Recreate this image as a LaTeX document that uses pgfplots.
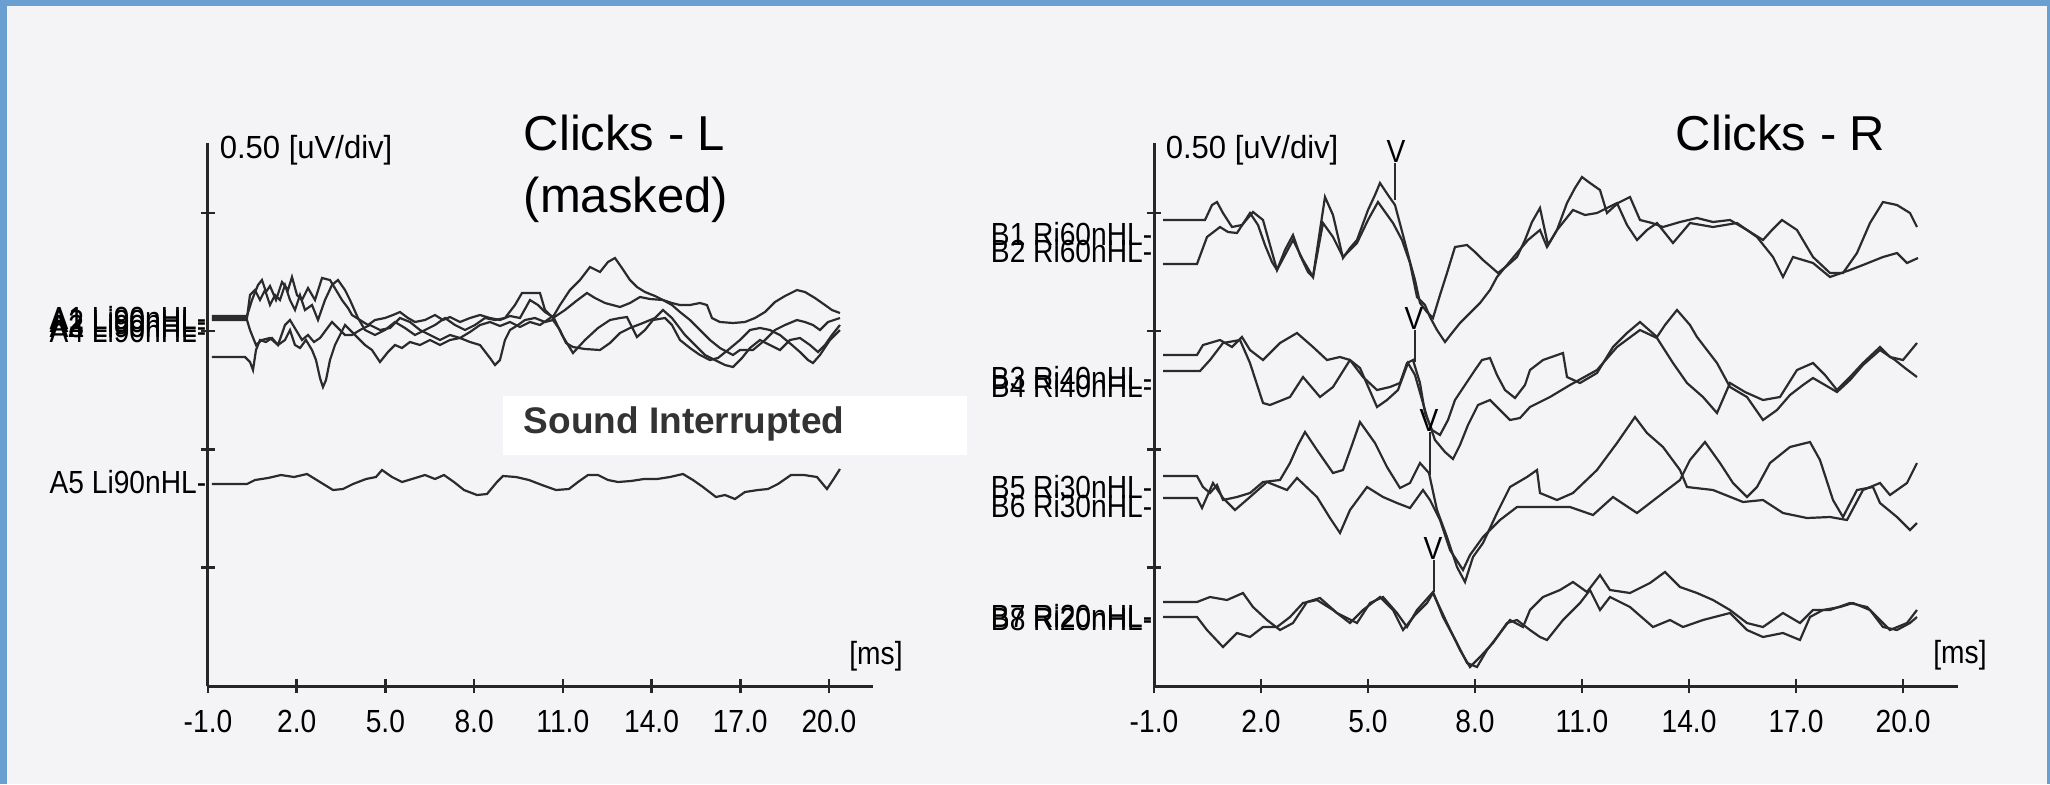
\documentclass[border=0pt]{standalone}
\usepackage{pgfplots}
\pgfplotsset{compat=1.18}
\usepackage{fontspec}
\setmainfont{Liberation Sans}
\newfontfamily\narrow[FakeStretch=0.88]{Liberation Sans}
\newfontfamily\narrowB[FakeStretch=0.97]{Liberation Sans}
\definecolor{frame}{HTML}{6A9FD2}
\definecolor{paper}{HTML}{F4F3F6}
\definecolor{trace}{HTML}{2B2B2B}
\pgfplotsset{
  abr/.style={
    scale only axis, height=135.75pt, anchor=south west,
    axis x line=bottom, axis y line=left,
    axis line style={-, line width=0.75pt, black!85},
    tick align=center, major tick length=3.5pt,
    tick style={line width=0.65pt, black!85},
    ymin=0, ymax=2.295, ytick={0.5,1,1.5,2}, yticklabels={,,,},
    xtick={-1,2,5,8,11,14,17,20},
    xticklabels={-1.0,2.0,5.0,8.0,11.0,14.0,17.0,20.0},
    xticklabel style={font=\narrow\fontsize{8pt}{9.6pt}\selectfont, anchor=base, yshift=-9.9pt},
    clip=false,
    y filter/.expression={(686-y)/236.6},
  },
  wave/.style={trace, line width=0.55pt, mark=none},
}
\begin{document}
\begin{tikzpicture}
\begin{scope}[x=0.25pt,y=-0.25pt]
\fill[frame] (0,0) rectangle (2050,784);
\fill[paper] (7,6) rectangle (2047,784);
\end{scope}

% ---------- left panel ----------
\begin{axis}[abr, at={(52pt,-171.5pt)}, width=166.25pt, xmin=-1, xmax=21.49,
  x filter/.expression={(x-208)/29.57-1}]
% A1
\addplot[wave] coordinates {(212,316) (247,316) (252,300) (258,285) (262,280) (266,292) (270,286) (276,300) (282,282) (288,290) (292,277) (297,295) (302,300) (308,288) (315,300) (322,278) (330,280) (336,290) (342,300) (348,308) (352,315) (360,320) (368,325) (375,320) (385,318) (393,315) (400,312) (408,318) (415,322) (425,320) (435,315) (443,320) (450,317) (460,322) (470,318) (480,315) (490,318) (500,320) (510,316) (520,318) (530,300) (538,305) (545,312) (553,317) (560,305) (570,290) (580,280) (590,267) (600,272) (608,262) (615,258) (622,268) (630,280) (637,287) (645,292) (655,296) (663,300) (672,303) (680,305) (690,305) (700,303) (707,305) (712,318) (720,322) (733,323) (745,322) (755,318) (765,312) (775,302) (785,296) (797,290) (805,292) (815,298) (825,305) (832,310) (840,313)};
% A2
\addplot[wave] coordinates {(212,318) (247,318) (250,295) (255,290) (260,300) (265,290) (270,305) (275,295) (280,300) (285,285) (290,300) (295,310) (300,295) (305,310) (312,305) (318,320) (325,300) (332,285) (338,280) (345,290) (350,300) (358,318) (365,330) (375,335) (385,330) (395,322) (405,328) (415,335) (425,330) (435,325) (445,318) (455,325) (465,330) (475,325) (485,318) (495,320) (505,318) (515,305) (522,293) (530,293) (540,293) (545,310) (553,318) (565,310) (575,302) (587,293) (595,298) (605,303) (620,307) (630,303) (640,297) (650,299) (663,300) (672,305) (680,312) (690,320) (700,330) (710,340) (720,348) (733,355) (740,350) (753,350) (765,340) (775,330) (785,325) (797,320) (805,322) (813,325) (820,330) (828,322) (840,318)};
% A3
\addplot[wave] coordinates {(212,320) (247,320) (250,330) (256,345) (262,340) (270,338) (278,345) (285,340) (290,330) (295,345) (300,348) (306,340) (312,350) (316,360) (320,378) (323,387) (326,380) (330,360) (335,345) (340,335) (345,325) (350,330) (358,338) (365,345) (372,350) (380,362) (388,352) (395,345) (402,348) (410,342) (420,345) (430,340) (440,345) (450,340) (460,338) (470,342) (480,345) (490,358) (495,365) (500,360) (505,340) (510,330) (518,325) (525,320) (535,318) (545,322) (553,320) (560,330) (566,343) (573,347) (585,349) (600,350) (610,343) (620,333) (630,328) (643,323) (655,318) (663,310) (672,318) (685,335) (695,345) (705,355) (715,360) (725,365) (733,367) (742,358) (750,348) (760,340) (770,345) (780,350) (790,340) (800,338) (810,345) (818,352) (825,345) (832,335) (840,325)};
% A4
\addplot[wave] coordinates {(212,357) (245,357) (250,362) (253,370) (256,350) (260,340) (266,342) (272,338) (278,345) (285,325) (290,320) (296,330) (302,340) (308,335) (314,342) (320,338) (326,330) (332,322) (338,328) (345,335) (352,335) (360,330) (370,325) (380,330) (390,328) (400,318) (410,322) (420,330) (430,335) (440,340) (450,335) (460,338) (470,332) (480,325) (490,322) (500,326) (510,322) (520,327) (530,322) (540,325) (553,316) (562,335) (573,353) (585,340) (598,328) (610,320) (620,318) (627,317) (637,337) (645,330) (653,320) (665,318) (672,325) (680,340) (690,348) (700,355) (710,360) (718,358) (728,350) (740,340) (750,330) (760,328) (770,330) (780,335) (792,345) (800,352) (808,360) (813,363) (820,355) (830,340) (840,330)};
% A5
\addplot[wave] coordinates {(212,484) (247,484) (255,480) (268,478) (281,475) (294,477) (307,474) (320,482) (333,490) (343,489) (353,484) (366,479) (376,477) (382,470) (392,477) (402,482) (412,479) (425,475) (435,479) (444,475) (454,482) (464,490) (477,495) (487,494) (497,482) (503,476) (516,477) (529,480) (542,485) (556,490) (569,489) (578,482) (588,475) (598,475) (608,480) (618,482) (631,481) (644,479) (657,479) (670,477) (683,474) (693,480) (703,487) (716,497) (725,495) (735,499) (745,492) (758,490) (768,489) (778,484) (791,475) (804,475) (817,477) (827,489) (833,480) (840,469)};
\end{axis}

% ---------- right panel ----------
\begin{axis}[abr, at={(288.5pt,-171.5pt)}, width=201pt, xmin=-1, xmax=21.54,
  x filter/.expression={(x-1154)/35.67-1}]
% B1
\addplot[wave] coordinates {(1163,220) (1205,220) (1212,205) (1217,202) (1223,213) (1232,227) (1242,225) (1253,212) (1263,220) (1270,245) (1277,270) (1285,250) (1293,235) (1300,255) (1308,272) (1313,277) (1320,230) (1325,197) (1333,215) (1343,258) (1350,248) (1357,240) (1368,210) (1375,195) (1380,183) (1388,195) (1395,205) (1403,235) (1410,262) (1415,280) (1420,303) (1427,312) (1433,318) (1440,295) (1447,273) (1455,247) (1467,245) (1475,252) (1483,260) (1490,266) (1498,273) (1508,265) (1517,257) (1525,240) (1532,222) (1540,208) (1548,245) (1557,230) (1567,203) (1575,188) (1582,177) (1590,183) (1600,190) (1607,213) (1618,203) (1630,197) (1640,220) (1652,223) (1663,227) (1680,222) (1697,218) (1713,222) (1730,220) (1747,230) (1763,240) (1772,230) (1782,220) (1797,230) (1813,257) (1830,273) (1843,273) (1857,253) (1870,223) (1883,202) (1897,205) (1910,213) (1917,227)};
% B2
\addplot[wave] coordinates {(1163,264) (1197,264) (1207,237) (1220,227) (1228,232) (1237,233) (1250,213) (1258,225) (1265,245) (1272,262) (1277,270) (1285,255) (1293,240) (1303,260) (1313,277) (1323,223) (1333,237) (1343,257) (1357,243) (1368,220) (1378,202) (1393,223) (1402,240) (1410,263) (1417,297) (1425,305) (1430,317) (1437,330) (1445,342) (1452,333) (1460,323) (1470,313) (1480,303) (1490,290) (1497,277) (1507,265) (1517,253) (1528,240) (1540,230) (1547,247) (1557,230) (1573,210) (1585,215) (1597,213) (1617,203) (1627,225) (1637,240) (1647,230) (1657,223) (1673,243) (1690,223) (1713,227) (1737,223) (1757,237) (1773,257) (1783,277) (1793,257) (1813,263) (1830,277) (1850,270) (1863,265) (1883,257) (1897,253) (1907,263) (1918,258)};
% B3
\addplot[wave] coordinates {(1163,355) (1197,355) (1203,345) (1220,340) (1232,347) (1242,337) (1250,350) (1263,360) (1280,343) (1297,333) (1313,347) (1327,360) (1340,357) (1350,360) (1363,377) (1377,390) (1390,387) (1400,383) (1407,363) (1413,360) (1420,383) (1425,413) (1432,430) (1440,435) (1448,420) (1455,400) (1465,385) (1475,370) (1482,360) (1490,358) (1497,375) (1505,390) (1515,398) (1525,385) (1530,370) (1543,360) (1563,353) (1567,377) (1580,383) (1597,373) (1613,347) (1627,333) (1640,322) (1657,337) (1665,325) (1677,310) (1690,325) (1697,337) (1717,363) (1730,387) (1747,397) (1763,420) (1777,410) (1790,395) (1803,385) (1813,378) (1825,385) (1837,392) (1850,380) (1863,365) (1880,350) (1895,360) (1905,368) (1917,377)};
% B4
\addplot[wave] coordinates {(1163,371) (1200,371) (1210,360) (1223,343) (1240,340) (1250,363) (1263,403) (1270,405) (1290,397) (1303,377) (1320,397) (1333,387) (1350,360) (1360,368) (1377,407) (1387,400) (1398,390) (1408,363) (1415,375) (1427,417) (1435,440) (1445,452) (1453,459) (1460,445) (1468,425) (1478,405) (1490,400) (1500,410) (1510,420) (1520,418) (1530,407) (1550,397) (1570,385) (1597,370) (1617,347) (1640,330) (1657,338) (1673,363) (1687,383) (1703,397) (1717,413) (1730,383) (1745,392) (1763,400) (1780,397) (1797,370) (1813,363) (1825,375) (1837,390) (1850,377) (1863,363) (1880,347) (1890,357) (1903,360) (1917,343)};
% B5
\addplot[wave] coordinates {(1163,476) (1197,476) (1203,487) (1210,493) (1217,485) (1223,500) (1237,497) (1250,493) (1263,482) (1280,480) (1290,463) (1298,445) (1305,432) (1317,450) (1333,473) (1343,470) (1352,445) (1360,422) (1375,443) (1387,467) (1400,488) (1410,483) (1420,463) (1429,473) (1437,510) (1447,537) (1457,567) (1465,582) (1473,557) (1483,543) (1497,513) (1510,487) (1527,477) (1537,470) (1540,493) (1557,500) (1573,493) (1597,470) (1617,443) (1635,417) (1647,433) (1663,447) (1680,470) (1687,487) (1713,490) (1743,502) (1763,500) (1783,513) (1807,518) (1830,517) (1847,520) (1863,490) (1880,483) (1890,495) (1907,483) (1917,463)};
% B6
\addplot[wave] coordinates {(1163,498) (1197,498) (1202,508) (1213,483) (1223,498) (1235,510) (1250,497) (1267,482) (1287,490) (1297,478) (1317,497) (1330,518) (1340,533) (1350,510) (1367,487) (1383,497) (1397,503) (1410,508) (1423,490) (1430,500) (1440,520) (1450,550) (1463,570) (1470,555) (1483,537) (1500,520) (1517,507) (1530,507) (1550,507) (1570,507) (1593,515) (1613,497) (1637,513) (1663,493) (1680,480) (1690,460) (1705,442) (1720,463) (1733,483) (1747,497) (1757,487) (1770,463) (1790,447) (1810,442) (1820,460) (1833,500) (1843,517) (1857,490) (1873,487) (1880,503) (1897,517) (1910,530) (1917,523)};
% B7
\addplot[wave] coordinates {(1163,602) (1197,602) (1210,597) (1227,600) (1243,593) (1253,607) (1267,620) (1280,630) (1293,623) (1307,602) (1320,598) (1337,613) (1357,623) (1370,603) (1383,597) (1397,613) (1407,627) (1417,610) (1433,592) (1443,617) (1457,643) (1467,663) (1477,667) (1487,650) (1497,637) (1510,620) (1523,627) (1530,610) (1543,597) (1560,590) (1573,582) (1587,592) (1600,575) (1610,590) (1630,593) (1650,583) (1665,572) (1680,587) (1697,593) (1713,600) (1730,610) (1747,623) (1763,627) (1783,613) (1800,623) (1813,610) (1830,610) (1850,603) (1867,607) (1880,620) (1890,630) (1907,623) (1917,610)};
% B8
\addplot[wave] coordinates {(1163,617) (1197,617) (1207,630) (1223,647) (1237,633) (1250,637) (1263,627) (1277,627) (1290,617) (1303,603) (1317,600) (1333,610) (1350,623) (1363,610) (1380,597) (1393,610) (1403,630) (1415,615) (1427,603) (1433,593) (1447,623) (1460,650) (1470,667) (1480,657) (1493,643) (1507,623) (1517,620) (1530,630) (1540,637) (1547,640) (1563,620) (1580,603) (1590,590) (1600,610) (1610,597) (1630,607) (1653,627) (1670,620) (1683,627) (1703,620) (1730,613) (1747,630) (1763,637) (1783,633) (1800,640) (1810,617) (1823,610) (1840,607) (1853,603) (1870,610) (1883,627) (1897,630) (1910,623) (1917,617)};
\end{axis}

% ---------- annotations ----------
\begin{scope}[x=0.25pt,y=-0.25pt]
\def\lab{\narrow\fontsize{8pt}{9.6pt}\selectfont}
% titles
\node[anchor=base west, inner sep=0pt, font=\fontsize{12.25pt}{14.5pt}\selectfont] at (523,150) {Clicks - L};
\node[anchor=base west, inner sep=0pt, font=\fontsize{12.25pt}{14.5pt}\selectfont] at (523,212) {(masked)};
\node[anchor=base west, inner sep=0pt, font=\fontsize{12.25pt}{14.5pt}\selectfont] at (1675,150) {Clicks - R};
% scale labels
\node[anchor=base west, inner sep=0pt, font=\narrowB\fontsize{8pt}{9.6pt}\selectfont] at (219,158) {0.50 [uV/div]};
\node[anchor=base west, inner sep=0pt, font=\narrowB\fontsize{8pt}{9.6pt}\selectfont] at (1165,158) {0.50 [uV/div]};
% [ms]
\node[inner sep=0pt, font=\lab] at (876,656) {[ms]};
\node[inner sep=0pt, font=\lab] at (1960,655) {[ms]};
% trace labels left
\node[anchor=east, inner sep=0pt, font=\lab] at (207,318) {A1 Li90nHL-};
\node[anchor=east, inner sep=0pt, font=\lab] at (207,321) {A2 Li90nHL-};
\node[anchor=east, inner sep=0pt, font=\lab] at (207,326) {A3 Li90nHL-};
\node[anchor=east, inner sep=0pt, font=\lab] at (207,331) {A4 Li90nHL-};
\node[anchor=east, inner sep=0pt, font=\lab] at (207,482) {A5 Li90nHL-};
% trace labels right
\node[anchor=east, inner sep=0pt, font=\lab] at (1153,234) {B1 Ri60nHL-};
\node[anchor=east, inner sep=0pt, font=\lab] at (1153,251) {B2 Ri60nHL-};
\node[anchor=east, inner sep=0pt, font=\lab] at (1153,378) {B3 Ri40nHL-};
\node[anchor=east, inner sep=0pt, font=\lab] at (1153,386) {B4 Ri40nHL-};
\node[anchor=east, inner sep=0pt, font=\lab] at (1153,487) {B5 Ri30nHL-};
\node[anchor=east, inner sep=0pt, font=\lab] at (1153,506) {B6 Ri30nHL-};
\node[anchor=east, inner sep=0pt, font=\lab] at (1153,616) {B7 Ri20nHL-};
\node[anchor=east, inner sep=0pt, font=\lab] at (1153,619) {B8 Ri20nHL-};
% wave V markers
\node[inner sep=0pt, font=\lab] at (1396,151) {V};
\draw[trace, line width=0.55pt] (1395,163) -- (1395,200);
\node[inner sep=0pt, font=\lab] at (1414,318) {V};
\draw[trace, line width=0.55pt] (1415,330) -- (1415,362);
\node[inner sep=0pt, font=\lab] at (1429,420) {V};
\draw[trace, line width=0.55pt] (1430,432) -- (1430,475);
\node[inner sep=0pt, font=\lab] at (1433,548) {V};
\draw[trace, line width=0.55pt] (1434,560) -- (1434,592);
% sound interrupted box
\fill[white] (503,396) rectangle (967,455);
\node[anchor=base west, inner sep=0pt, font=\bfseries\fontsize{9.25pt}{11pt}\selectfont, text=black!80] at (523,433) {Sound Interrupted};
\end{scope}
\end{tikzpicture}
\end{document}
